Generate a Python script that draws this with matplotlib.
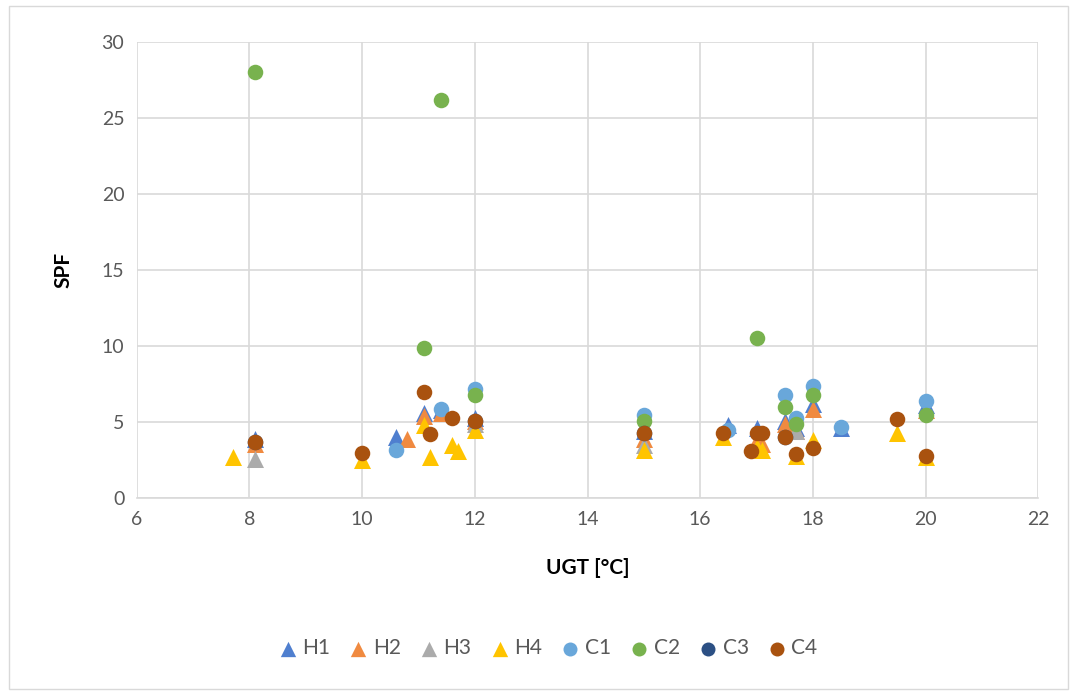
import matplotlib.pyplot as plt
from matplotlib.patches import Rectangle

# series data (UGT in degC, SPF)
h1_x = [8.1, 10.6, 11.1, 11.4, 12.0, 15.0, 16.5, 17.0, 17.5, 17.7, 18.0, 18.5, 20.0]
h1_y = [3.9, 4.0, 5.6, 5.8, 5.3, 4.4, 4.8, 4.6, 5.1, 4.6, 6.2, 4.6, 6.1]
h2_x = [8.1, 10.8, 11.1, 11.4, 12.0, 15.0, 17.0, 17.1, 17.5, 17.7, 18.0, 20.0]
h2_y = [3.6, 3.9, 5.4, 5.6, 5.1, 3.9, 3.8, 3.6, 4.9, 4.4, 5.9, 5.8]
h3_x = [8.1, 12.0, 15.0, 17.7]
h3_y = [2.6, 4.9, 3.5, 4.4]
h4_x = [7.7, 10.0, 11.1, 11.2, 11.6, 11.7, 12.0, 15.0, 16.4, 17.0, 17.1, 17.7, 18.0, 19.5, 20.0]
h4_y = [2.7, 2.5, 4.8, 2.7, 3.5, 3.1, 4.5, 3.2, 4.0, 3.4, 3.2, 2.8, 3.8, 4.3, 2.7]
c1_x = [10.6, 11.4, 12.0, 15.0, 16.5, 17.5, 17.7, 18.0, 18.5, 20.0]
c1_y = [3.2, 5.9, 7.2, 5.5, 4.5, 6.8, 5.3, 7.4, 4.7, 6.4]
c2_x = [8.1, 11.4, 11.1, 12.0, 15.0, 17.0, 17.5, 17.7, 18.0, 20.0]
c2_y = [28.0, 26.2, 9.9, 6.8, 5.1, 10.5, 6.0, 4.9, 6.8, 5.5]
c3_x = [8.1, 12.0, 15.0, 17.5]
c3_y = [3.7, 5.1, 4.3, 4.0]
c4_x = [8.1, 10.0, 11.1, 11.2, 11.6, 12.0, 15.0, 16.4, 16.9, 17.0, 17.1, 17.5, 17.7, 18.0, 19.5, 20.0]
c4_y = [3.7, 3.0, 7.0, 4.2, 5.3, 5.1, 4.3, 4.3, 3.1, 4.3, 4.3, 4.0, 2.9, 3.3, 5.2, 2.8]

series = [
    ('H1', h1_x, h1_y, '^', '#4f7fcf'),
    ('H2', h2_x, h2_y, '^', '#f08a40'),
    ('H3', h3_x, h3_y, '^', '#ababab'),
    ('H4', h4_x, h4_y, '^', '#ffc400'),
    ('C1', c1_x, c1_y, 'o', '#69a7da'),
    ('C2', c2_x, c2_y, 'o', '#78b24e'),
    ('C3', c3_x, c3_y, 'o', '#2c5084'),
    ('C4', c4_x, c4_y, 'o', '#a9520f'),
]

plt.rcParams['font.family'] = ['Lato', 'DejaVu Sans']

fig = plt.figure(figsize=(10.77, 6.95), dpi=100)
ax = fig.add_axes([0.127, 0.283, 0.837, 0.657])

for name, xs, ys, mk, col in series:
    size = 150 if mk == '^' else 125
    ax.scatter(xs, ys, marker=mk, s=size, color=col, label=name, zorder=3, linewidths=0)

ax.set_xlim(6, 22)
ax.set_ylim(0, 30)
ax.set_xticks(range(6, 23, 2))
ax.set_yticks(range(0, 31, 5))
ax.grid(True, color='#d9d9d9', linewidth=1.2, zorder=0)
ax.set_axisbelow(True)
for s in ['top', 'right', 'left']:
    ax.spines[s].set_visible(False)
ax.spines['bottom'].set_color('#d9d9d9')
ax.spines['bottom'].set_linewidth(1.2)
ax.tick_params(length=0, labelsize=14, labelcolor='#595959', pad=9)

ax.set_xlabel('UGT [°C]', fontsize=15, fontweight='bold', labelpad=22)
ax.set_ylabel('SPF', fontsize=15, fontweight='bold', labelpad=20)

ax.legend(loc='upper center', bbox_to_anchor=(0.456, -0.265), ncol=8, frameon=False,
          fontsize=15, handlelength=0.9, handletextpad=0.25, columnspacing=0.9,
          markerscale=0.9, labelcolor='#595959')

# outer chart border
fig.patches.append(Rectangle((0.008, 0.008), 0.984, 0.984, transform=fig.transFigure,
                             fill=False, edgecolor='#d9d9d9', linewidth=1))

fig.savefig('out.png', dpi=100)
